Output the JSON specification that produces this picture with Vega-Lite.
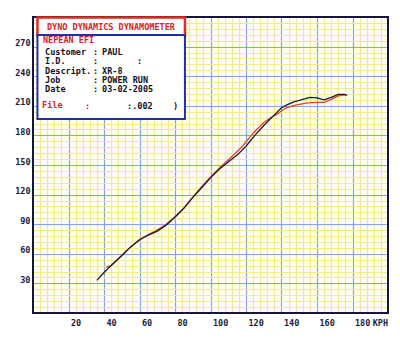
{
  "$schema": "https://vega.github.io/schema/vega-lite/v6.json",
  "width": 355,
  "height": 296,
  "autosize": {"type": "none"},
  "padding": {"left": 33, "top": 17, "right": 12, "bottom": 32},
  "background": "#ffffff",
  "config": {
    "view": {"stroke": null, "fill": "#fffff6"},
    "axis": {"labelFont": "DejaVu Sans Mono", "labelFontWeight": "bold", "labelFontSize": 8.5, "labelColor": "#1c1c40"}
  },
  "data": {
    "values": [
      {"run": "black", "kph": 36, "power": 33},
      {"run": "black", "kph": 40, "power": 41},
      {"run": "black", "kph": 45, "power": 50},
      {"run": "black", "kph": 50, "power": 58},
      {"run": "black", "kph": 55, "power": 67},
      {"run": "black", "kph": 60, "power": 74},
      {"run": "black", "kph": 65, "power": 79},
      {"run": "black", "kph": 70, "power": 83},
      {"run": "black", "kph": 75, "power": 89},
      {"run": "black", "kph": 80, "power": 97},
      {"run": "black", "kph": 85, "power": 106},
      {"run": "black", "kph": 90, "power": 117},
      {"run": "black", "kph": 95, "power": 127},
      {"run": "black", "kph": 100, "power": 137},
      {"run": "black", "kph": 105, "power": 146},
      {"run": "black", "kph": 110, "power": 153},
      {"run": "black", "kph": 115, "power": 160},
      {"run": "black", "kph": 120, "power": 169},
      {"run": "black", "kph": 125, "power": 180},
      {"run": "black", "kph": 130, "power": 190},
      {"run": "black", "kph": 135, "power": 199},
      {"run": "black", "kph": 140, "power": 208},
      {"run": "black", "kph": 143, "power": 211},
      {"run": "black", "kph": 147, "power": 214},
      {"run": "black", "kph": 151, "power": 216},
      {"run": "black", "kph": 156, "power": 218.5},
      {"run": "black", "kph": 160, "power": 218},
      {"run": "black", "kph": 164, "power": 216},
      {"run": "black", "kph": 168, "power": 218.5},
      {"run": "black", "kph": 172, "power": 221.5},
      {"run": "black", "kph": 175.5, "power": 221.5},
      {"run": "black", "kph": 177, "power": 220.5},
      {"run": "red", "kph": 41, "power": 46.5},
      {"run": "red", "kph": 44, "power": 48},
      {"run": "red", "kph": 47, "power": 53},
      {"run": "red", "kph": 50, "power": 58.5},
      {"run": "red", "kph": 55, "power": 67},
      {"run": "red", "kph": 60, "power": 74.5},
      {"run": "red", "kph": 65, "power": 79.5},
      {"run": "red", "kph": 70, "power": 84},
      {"run": "red", "kph": 75, "power": 90},
      {"run": "red", "kph": 80, "power": 97.5},
      {"run": "red", "kph": 85, "power": 106.5},
      {"run": "red", "kph": 90, "power": 117.5},
      {"run": "red", "kph": 95, "power": 128},
      {"run": "red", "kph": 100, "power": 138},
      {"run": "red", "kph": 105, "power": 147},
      {"run": "red", "kph": 110, "power": 155},
      {"run": "red", "kph": 114, "power": 162},
      {"run": "red", "kph": 118, "power": 169},
      {"run": "red", "kph": 122, "power": 178},
      {"run": "red", "kph": 126, "power": 186},
      {"run": "red", "kph": 130, "power": 193},
      {"run": "red", "kph": 134, "power": 198},
      {"run": "red", "kph": 138, "power": 202},
      {"run": "red", "kph": 142, "power": 207.5},
      {"run": "red", "kph": 146, "power": 210},
      {"run": "red", "kph": 150, "power": 211.5},
      {"run": "red", "kph": 155, "power": 213},
      {"run": "red", "kph": 160, "power": 213.5},
      {"run": "red", "kph": 164, "power": 213.5},
      {"run": "red", "kph": 168, "power": 216.5},
      {"run": "red", "kph": 172, "power": 220},
      {"run": "red", "kph": 176, "power": 221}
    ]
  },
  "layer": [
    {
      "transform": [{"filter": "datum.run === 'red'"}],
      "mark": {"type": "line", "color": "#e3402c", "strokeWidth": 1.3},
      "encoding": {
        "x": {"field": "kph", "type": "quantitative", "scale": {"domain": [0, 200], "nice": false},
          "axis": {"orient": "top", "title": null, "labels": false, "ticks": false, "domain": false, "grid": true,
            "gridColor": "#f3ea8c", "gridWidth": 1.2,
            "values": [4,8,12,16,24,28,32,36,44,48,52,56,64,68,72,76,84,88,92,96,104,108,112,116,124,128,132,136,144,148,152,156,164,168,172,176,184,188,192,196]}},
        "y": {"field": "power", "type": "quantitative", "scale": {"domain": [0, 300], "nice": false},
          "axis": {"orient": "right", "title": null, "labels": false, "ticks": false, "domain": false, "grid": true,
            "gridColor": "#f3ea8c", "gridWidth": 1.2,
            "values": [6,12,18,24,36,42,48,54,66,72,78,84,96,102,108,114,126,132,138,144,156,162,168,174,186,192,198,204,216,222,228,234,246,252,258,264,276,282,288,294]}}
      }
    },
    {
      "transform": [{"filter": "datum.run === 'black'"}],
      "mark": {"type": "line", "color": "#1a1a30", "strokeWidth": 1.3},
      "encoding": {
        "x": {"field": "kph", "type": "quantitative",
          "axis": {"orient": "bottom", "title": null, "ticks": false, "domain": false, "grid": true,
            "gridColor": "#7ea6e2", "gridWidth": 1.2,
            "gridOpacity": {"condition": {"test": "datum.value === 190", "value": 0}, "value": 1},
            "values": [20,40,60,80,100,120,140,160,180,190],
            "labelExpr": "datum.value === 190 ? 'KPH' : datum.label",
            "labelAlign": "left", "labelOffset": 2, "labelPadding": 5}},
        "y": {"field": "power", "type": "quantitative",
          "axis": {"orient": "left", "title": null, "ticks": false, "domain": false, "grid": true,
            "gridColor": "#7ea6e2", "gridWidth": 1.2,
            "values": [30,60,90,120,150,180,210,240,270],
            "labelPadding": 3, "labelOffset": -4}}
      }
    },
    {
      "data": {"values": [{}]},
      "layer": [
        {
          "mark": {"type": "rect", "fill": null, "stroke": "#16163a", "strokeWidth": 2},
          "encoding": {
            "x": {"datum": 0, "type": "quantitative", "axis": null},
            "x2": {"datum": 200},
            "y": {"datum": 300, "type": "quantitative", "axis": null},
            "y2": {"datum": 0}
          }
        },
        {
          "mark": {"type": "rect", "fill": "#ffffff", "stroke": "#e02a22", "strokeWidth": 2.5},
          "encoding": {
            "x": {"datum": 2.5, "type": "quantitative", "axis": null},
            "x2": {"datum": 85.6},
            "y": {"datum": 299.5, "type": "quantitative", "axis": null},
            "y2": {"datum": 280.7}
          }
        },
        {
          "mark": {"type": "rect", "fill": "#ffffff", "stroke": "#1f2fa8", "strokeWidth": 2},
          "encoding": {
            "x": {"datum": 2.5, "type": "quantitative", "axis": null},
            "x2": {"datum": 85.6},
            "y": {"datum": 281.8, "type": "quantitative", "axis": null},
            "y2": {"datum": 196.6}
          }
        },
        {
          "mark": {"type": "text", "text": "DYNO DYNAMICS DYNAMOMETER", "font": "DejaVu Sans Mono", "fontWeight": "bold", "fontSize": 8.5, "color": "#d8231c", "align": "center", "baseline": "middle"},
          "encoding": {
            "x": {"datum": 43.9, "type": "quantitative", "axis": null},
            "y": {"datum": 289.9, "type": "quantitative", "axis": null}
          }
        },
        {
          "mark": {"type": "text", "text": "NEPEAN EFI", "font": "DejaVu Sans Mono", "fontWeight": "bold", "fontSize": 8.5, "color": "#d8231c", "align": "left", "baseline": "middle"},
          "encoding": {
            "x": {"datum": 5.6, "type": "quantitative", "axis": null},
            "y": {"datum": 276.2, "type": "quantitative", "axis": null}
          }
        },
        {
          "mark": {"type": "text", "text": ["Customer", "I.D.", "Descript.", "Job", "Date"], "lineHeight": 9.3, "font": "DejaVu Sans Mono", "fontWeight": "bold", "fontSize": 8.5, "color": "#111122", "align": "left", "baseline": "top"},
          "encoding": {
            "x": {"datum": 6.8, "type": "quantitative", "axis": null},
            "y": {"datum": 268.6, "type": "quantitative", "axis": null}
          }
        },
        {
          "mark": {"type": "text", "text": [":", ":", ":", ":", ":"], "lineHeight": 9.3, "font": "DejaVu Sans Mono", "fontWeight": "bold", "fontSize": 8.5, "color": "#111122", "align": "left", "baseline": "top"},
          "encoding": {
            "x": {"datum": 33.8, "type": "quantitative", "axis": null},
            "y": {"datum": 268.6, "type": "quantitative", "axis": null}
          }
        },
        {
          "mark": {"type": "text", "text": "PAUL", "font": "DejaVu Sans Mono", "fontWeight": "bold", "fontSize": 8.5, "color": "#111122", "align": "left", "baseline": "top"},
          "encoding": {
            "x": {"datum": 38.9, "type": "quantitative", "axis": null},
            "y": {"datum": 268.6, "type": "quantitative", "axis": null}
          }
        },
        {
          "mark": {"type": "text", "text": ["XR-8", "POWER RUN", "03-02-2005"], "lineHeight": 9.3, "font": "DejaVu Sans Mono", "fontWeight": "bold", "fontSize": 8.5, "color": "#111122", "align": "left", "baseline": "top"},
          "encoding": {
            "x": {"datum": 38.9, "type": "quantitative", "axis": null},
            "y": {"datum": 249.75, "type": "quantitative", "axis": null}
          }
        },
        {
          "mark": {"type": "text", "text": ":", "font": "DejaVu Sans Mono", "fontWeight": "bold", "fontSize": 8.5, "color": "#111122", "align": "left", "baseline": "middle"},
          "encoding": {
            "x": {"datum": 58.6, "type": "quantitative", "axis": null},
            "y": {"datum": 255.4, "type": "quantitative", "axis": null}
          }
        },
        {
          "mark": {"type": "text", "text": "File", "font": "DejaVu Sans Mono", "fontWeight": "bold", "fontSize": 8.5, "color": "#d8231c", "align": "left", "baseline": "middle"},
          "encoding": {
            "x": {"datum": 5.1, "type": "quantitative", "axis": null},
            "y": {"datum": 210.8, "type": "quantitative", "axis": null}
          }
        },
        {
          "mark": {"type": "text", "text": ":", "font": "DejaVu Sans Mono", "fontWeight": "bold", "fontSize": 8.5, "color": "#d8231c", "align": "left", "baseline": "middle"},
          "encoding": {
            "x": {"datum": 29.3, "type": "quantitative", "axis": null},
            "y": {"datum": 210.3, "type": "quantitative", "axis": null}
          }
        },
        {
          "mark": {"type": "text", "text": ":.002", "font": "DejaVu Sans Mono", "fontWeight": "bold", "fontSize": 8.5, "color": "#111122", "align": "left", "baseline": "middle"},
          "encoding": {
            "x": {"datum": 53, "type": "quantitative", "axis": null},
            "y": {"datum": 209.8, "type": "quantitative", "axis": null}
          }
        },
        {
          "mark": {"type": "text", "text": ")", "font": "DejaVu Sans Mono", "fontWeight": "bold", "fontSize": 8.5, "color": "#111122", "align": "left", "baseline": "middle"},
          "encoding": {
            "x": {"datum": 78.9, "type": "quantitative", "axis": null},
            "y": {"datum": 209.3, "type": "quantitative", "axis": null}
          }
        }
      ]
    }
  ],
  "resolve": {"axis": {"x": "independent", "y": "independent"}}
}
